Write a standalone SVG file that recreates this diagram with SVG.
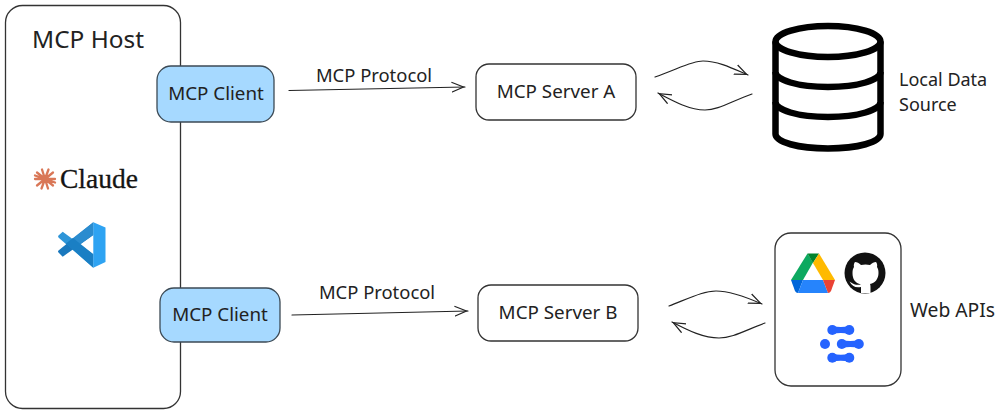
<svg xmlns="http://www.w3.org/2000/svg" width="1000" height="414" viewBox="0 0 1000 414">
<style>
text{font-family:"Noto Sans","Liberation Sans",sans-serif;fill:#222;font-size:18.800px}
.box{fill:#fff;stroke:#333;stroke-width:1.3}
.cl{fill:#a6d9ff;stroke:#3c4a55;stroke-width:1.3}
.c{fill:none;stroke:#222;stroke-width:1.2;stroke-linecap:round;stroke-linejoin:round}
.db{fill:none;stroke:#000;stroke-width:6.5}
.p{font-size:18.400px}
.l{font-size:18px}
</style>
<defs>
<marker id="a" markerWidth="16" markerHeight="14" refX="13.500" refY="6" orient="auto" markerUnits="userSpaceOnUse"><path d="M0 1L12 6L0 11" fill="none" stroke="#222" stroke-width="1.200"/></marker>
<g id="dumbbell"><circle r="5"/><circle cx="17" r="5"/><path d="M0-4Q8.500-2 17-4V4Q8.500 2 0 4Z"/></g>
</defs>
<rect width="1000" height="414" fill="#fff"/>
<g id="host">
<rect class="box" x="5.500" y="5.500" width="175" height="403" rx="17"/>
<text x="88" y="48" text-anchor="middle" style="font-size:24.400px">MCP Host</text>
</g>
<g id="claude-logo">
<path d="M35 179H55M37 172.500L53 185.500M37 185.500L53 172.500M42 169.500L48 188.500M48.500 169.500L41.500 188.500M35 175.500L55 182.500" stroke="#d97757" stroke-width="2.300" stroke-linecap="round" fill="none"/>
<text x="60" y="187.500" style="font-family:'Liberation Serif',serif;font-size:27.500px;fill:#141413;stroke:#141413;stroke-width:.3">Claude</text>
</g>
<g id="vscode-logo">
<path d="M62.700 231.700L93.300 254.300V267.700L59 238Q57.500 236.500 58.500 235.500Z" fill="#2e95d8"/>
<path d="M93.300 222.300V235L62.700 256.700L58.500 252.500Q57.500 251.500 58.500 250.500Z" fill="#1a78bd"/>
<path d="M93.300 222.300V235L73 249.500L66 243.500Z" fill="#2b8ccf"/>
<path d="M73 238L93.300 254.300V267.700L66 243.500Z" fill="#1a7fc4"/>
<path d="M93.300 222.300L105.500 227.500V262L93.300 267.700Z" fill="#2ea3f2"/>
</g>
<g id="connectors">
<path class="c" d="M289 90.500L465 87" marker-end="url(#a)"/>
<path class="c" d="M292 315L468 311" marker-end="url(#a)"/>
<path class="c" d="M655 77C680 68 692 61 703 61C718 61 732 68 748 75" marker-end="url(#a)"/>
<path class="c" d="M752 94C730 102 718 110 705 110C690 110 675 102 658 93" marker-end="url(#a)"/>
<path class="c" d="M669 306C692 297 704 291 716 291C730 291 746 297 762 304" marker-end="url(#a)"/>
<path class="c" d="M765 323C744 331 732 338 719 338C704 338 689 331 672 322" marker-end="url(#a)"/>
</g>
<text class="p" x="374" y="82" text-anchor="middle">MCP Protocol</text>
<text class="p" x="377" y="299" text-anchor="middle">MCP Protocol</text>
<g id="client-a">
<rect class="cl" x="157" y="66" width="117" height="56" rx="14"/>
<text x="216" y="100" text-anchor="middle">MCP Client</text>
</g>
<g id="client-b">
<rect class="cl" x="160" y="288" width="120" height="54" rx="14"/>
<text x="220" y="321" text-anchor="middle">MCP Client</text>
</g>
<g id="server-a">
<rect class="box" x="476" y="64" width="160" height="56" rx="13"/>
<text x="556" y="98" text-anchor="middle">MCP Server A</text>
</g>
<g id="server-b">
<rect class="box" x="478" y="285" width="160" height="56" rx="13"/>
<text x="558" y="319" text-anchor="middle">MCP Server B</text>
</g>
<g id="database">
<ellipse class="db" cx="828" cy="41.500" rx="52.500" ry="15.500"/>
<path class="db" d="M775.500 41.500V134C775.500 142 798 148.500 828 148.500C858 148.500 880.500 142 880.500 134V41.500"/>
<path class="db" d="M775.500 72C775.500 80 798 87 828 87C858 87 880.500 80 880.500 72"/>
<path class="db" d="M775.500 102C775.500 110 798 117 828 117C858 117 880.500 110 880.500 102"/>
<text class="l" x="899" y="86">Local Data</text>
<text class="l" x="899" y="111">Source</text>
</g>
<g id="web-apis">
<rect class="box" x="775" y="233" width="126" height="153" rx="16"/>
<text x="910" y="317" style="font-size:19.300px">Web APIs</text>
<g id="drive-logo">
<path d="M791 280L807.500 253.500L813 262.500L803 280Z" fill="#0da960"/>
<path d="M807.500 253.500H819L813 263Z" fill="#00832d"/>
<path d="M819 253.500L835 280H823L813 263Z" fill="#ffba00"/>
<path d="M791 280H803L798 293Q796 293 795 291Z" fill="#0066da"/>
<path d="M803 280H823L828 293H798Z" fill="#2684fc"/>
<path d="M823 280H835L831 291Q830 293 828 293Z" fill="#ea4335"/>
</g>
<g id="github-logo">
<circle cx="865" cy="273" r="20.500" fill="#111"/>
<path d="M861 293V287C855 288 852 286 849.500 281.500C852 283 854 285.500 861 284.500C855 283 852.500 279 852.500 273C852.500 270 853 268.500 854 267C853.500 265.500 854 263 855 262C857 262 859 263 861 265C864 264.300 867 264.300 870 265C872 263 874 262 876 262C877 263 877.500 265.500 877 267C878 268.500 878.500 270 878.500 273C878.500 279 875 283 870 284C870.500 285 870.500 286 870.500 288V293Z" fill="#fff"/>
</g>
<g id="blue-logo" fill="#2563ff">
<use href="#dumbbell" x="832.300" y="330"/>
<circle cx="825" cy="344" r="5"/>
<use href="#dumbbell" x="841.800" y="344"/>
<use href="#dumbbell" x="832.300" y="357.700"/>
</g>
</g>
</svg>
